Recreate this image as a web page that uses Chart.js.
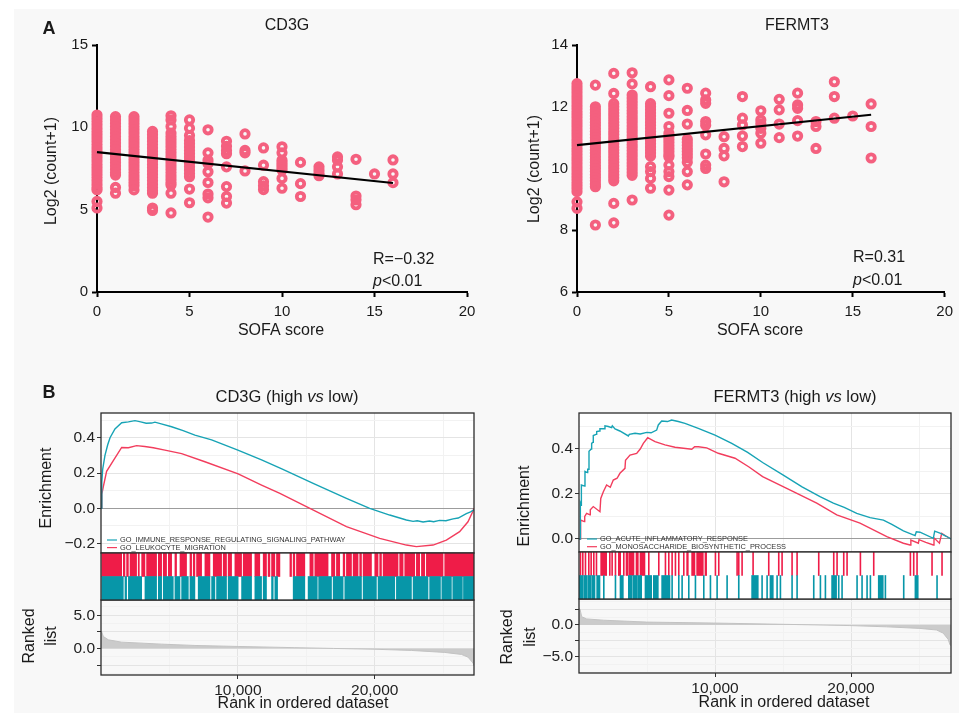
<!DOCTYPE html>
<html>
<head>
<meta charset="utf-8">
<title>CD3G / FERMT3 vs SOFA score and GSEA</title>
<script src="https://cdn.jsdelivr.net/npm/chart.js@4.4.1/dist/chart.umd.min.js"></script>
<style>
  body { margin: 0; background: #fff; }
  #fig { position: relative; width: 959px; height: 713px; overflow: hidden; }
  #bg { position: absolute; left: 14px; top: 9px; right: 0; bottom: 0; background: #f8f8f8; }
  canvas { position: absolute; left: 0; top: 0; }
</style>
</head>
<body>
<div id="fig">
  <div id="bg"></div>
  <canvas id="sc1" width="959" height="713"></canvas>
  <canvas id="sc2" width="959" height="713"></canvas>
  <canvas id="es1" width="959" height="713"></canvas>
  <canvas id="rk1" width="959" height="713"></canvas>
  <canvas id="hit1" width="959" height="713"></canvas>
  <canvas id="es2" width="959" height="713"></canvas>
  <canvas id="rk2" width="959" height="713"></canvas>
  <canvas id="hit2" width="959" height="713"></canvas>
</div>
<script>
// ---------- panel A: expression vs SOFA score ----------
const sofaScores = [0, 1, 2, 3, 4, 5, 6, 7, 8, 9, 10, 11, 12, 13, 14, 15, 16];

// log2(count+1) of every patient, one list per SOFA score
const cd3gExpr = [
  [10.75, 10.55, 10.35, 10.15, 9.95, 9.75, 9.55, 9.35, 9.15, 8.95, 8.75, 8.55, 8.35, 8.15, 7.95, 7.75, 7.55, 7.35, 7.15, 6.95, 6.75, 6.55, 6.35, 6.2, 5.5, 5.1],
  [10.65, 10.45, 10.25, 10.05, 9.85, 9.65, 9.45, 9.25, 9.05, 8.85, 8.65, 8.45, 8.25, 8.05, 7.85, 7.65, 7.45, 7.25, 7.1, 6.35, 6.0],
  [10.65, 10.45, 10.25, 10.05, 9.85, 9.65, 9.45, 9.25, 9.05, 8.85, 8.65, 8.45, 8.25, 8.05, 7.85, 7.65, 7.45, 7.25, 7.05, 6.85, 6.65, 6.45, 6.2],
  [9.75, 9.55, 9.35, 9.15, 8.95, 8.75, 8.55, 8.35, 8.15, 7.95, 7.75, 7.55, 7.35, 7.15, 6.95, 6.75, 6.55, 6.35, 6.15, 6.0, 5.1, 4.95],
  [10.7, 10.45, 10.05, 9.65, 9.45, 9.25, 9.05, 8.85, 8.65, 8.45, 8.25, 8.05, 7.85, 7.65, 7.45, 7.25, 7.05, 6.85, 6.65, 6.5, 6.0, 4.8],
  [10.45, 9.95, 9.5, 9.2, 9.0, 8.8, 8.6, 8.4, 8.2, 8.0, 7.8, 7.6, 7.4, 7.2, 7.0, 6.25, 5.42],
  [9.85, 8.45, 8.0, 7.8, 7.3, 6.65, 5.95, 5.72, 4.55],
  [9.15, 8.85, 8.6, 8.4, 7.6, 6.4, 5.8, 5.4],
  [9.6, 8.6, 8.45, 7.35],
  [8.75, 7.7, 6.7, 6.45, 6.22],
  [8.82, 8.45, 8.0, 7.85, 7.7, 7.55, 7.4, 6.9, 6.3],
  [7.87, 6.58, 5.8],
  [7.6, 7.4, 7.2, 7.06],
  [8.2, 8.0, 7.6, 7.17],
  [8.06, 5.83, 5.6, 5.3],
  [7.17],
  [8.02, 7.17, 6.64]
];
const fermt3Expr = [
  [12.75, 12.65, 12.55, 12.45, 12.35, 12.25, 12.15, 12.05, 11.95, 11.85, 11.75, 11.65, 11.55, 11.45, 11.35, 11.25, 11.15, 11.05, 10.95, 10.85, 10.75, 10.65, 10.55, 10.45, 10.35, 10.25, 10.15, 10.05, 9.95, 9.85, 9.75, 9.65, 9.55, 9.45, 9.35, 9.25, 8.92, 8.71],
  [12.7, 12.0, 11.9, 11.8, 11.7, 11.6, 11.5, 11.4, 11.3, 11.2, 11.1, 11.0, 10.9, 10.8, 10.7, 10.6, 10.5, 10.4, 10.3, 10.2, 10.1, 10.0, 9.9, 9.8, 9.7, 9.6, 9.5, 9.41, 8.17],
  [13.08, 12.43, 12.1, 12.0, 11.9, 11.8, 11.7, 11.6, 11.5, 11.4, 11.3, 11.2, 11.1, 11.0, 10.9, 10.8, 10.7, 10.6, 10.5, 10.4, 10.3, 10.2, 10.1, 10.0, 9.9, 9.8, 9.7, 9.6, 8.87, 8.24],
  [13.1, 12.74, 12.38, 12.28, 12.18, 12.08, 11.98, 11.88, 11.78, 11.68, 11.58, 11.48, 11.38, 11.28, 11.18, 11.08, 10.98, 10.88, 10.78, 10.68, 10.58, 10.48, 10.38, 10.28, 10.18, 10.08, 9.98, 9.88, 9.78, 8.98],
  [12.65, 12.1, 12.0, 11.9, 11.8, 11.7, 11.6, 11.5, 11.4, 11.3, 11.2, 11.1, 11.0, 10.9, 10.8, 10.7, 10.6, 10.5, 10.4, 10.06, 9.9, 9.68, 9.36],
  [12.87, 12.36, 11.79, 11.36, 11.14, 11.04, 10.94, 10.84, 10.74, 10.64, 10.54, 10.44, 10.38, 10.11, 9.9, 9.74, 9.3, 8.49],
  [12.6, 11.88, 11.44, 10.95, 10.85, 10.75, 10.65, 10.55, 10.45, 10.35, 10.2, 9.9, 9.47],
  [12.44, 12.22, 12.11, 11.52, 11.4, 11.09, 10.47, 10.11, 10.0],
  [11.03, 10.65, 10.41, 9.57],
  [12.33, 11.63, 11.41, 11.05, 10.71],
  [11.87, 11.57, 11.45, 11.3, 11.14, 10.82],
  [12.24, 11.9, 11.44, 11.0],
  [12.44, 12.06, 11.95, 11.55, 11.05],
  [11.52, 11.36, 10.65],
  [12.81, 12.33, 11.63],
  [11.7],
  [12.09, 11.36, 10.34]
];
// linear fit, evaluated at the ends of the observed score range
const fitX = [0, 16];
const cd3gFitY = [8.5, 6.62];
const fermt3FitY = [10.76, 11.74];
const cd3gStat = 'R=\u22120.32';
const fermt3Stat = 'R=0.31';

// ---------- panel B: GSEA running enrichment ----------
const rankGrid = [5000, 10000, 15000, 20000, 25000];
const rankMajor = [10000, 20000];

const cd3gSets = ['GO_IMMUNE_RESPONSE_REGULATING_SIGNALING_PATHWAY', 'GO_LEUKOCYTE_MIGRATION'];
const cd3gImmuneRank = [0, 60, 120, 290, 490, 660, 1020, 1510, 2000, 2480, 2900, 3300, 3700, 3940, 4400, 5160, 6000, 6860, 8080, 10000, 11730, 13250, 15500, 17930, 19630, 21090, 22310, 22800, 23100, 23530, 24000, 24300, 24740, 25200, 25720, 26100, 26690, 27000, 27250];
const cd3gImmuneES = [0, 0.15, 0.22, 0.30, 0.36, 0.40, 0.45, 0.485, 0.49, 0.497, 0.49, 0.482, 0.483, 0.488, 0.478, 0.462, 0.44, 0.415, 0.388, 0.33, 0.274, 0.222, 0.142, 0.057, 0, -0.038, -0.066, -0.074, -0.07, -0.077, -0.072, -0.076, -0.068, -0.07, -0.06, -0.055, -0.03, -0.02, -0.008];
const cd3gLeukoRank = [0, 60, 190, 410, 900, 1510, 2000, 2600, 3200, 3820, 4670, 5890, 7590, 10020, 11730, 13070, 15260, 17930, 20360, 22310, 23040, 24260, 25230, 26200, 26810, 27180, 27250];
const cd3gLeukoES = [0, 0.08, 0.13, 0.21, 0.27, 0.345, 0.343, 0.355, 0.35, 0.343, 0.33, 0.31, 0.264, 0.195, 0.132, 0.085, 0, -0.104, -0.17, -0.208, -0.217, -0.208, -0.18, -0.132, -0.076, -0.015, 0];
const cd3gImmuneHits = [[50, 1630], [1750, 1870], [2000, 2970], [3210, 4060], [4190, 4430], [4550, 5280], [5400, 5770], [5890, 6380], [6500, 6860], [7100, 7960], [8080, 8320], [8440, 9170], [9290, 10020], [10270, 11000], [11240, 11730], [11850, 12090], [12460, 12580], [12700, 12900], [14040, 14890], [15130, 15800], [15900, 16840], [16960, 17690], [17810, 19030], [19150, 20120], [20240, 21460], [21580, 22680], [22800, 23890], [24010, 24800], [24900, 25600], [25700, 26400], [26480, 27250]];
const cd3gLeukoHits = [[50, 1510], [1630, 1750], [1870, 2000], [2120, 2600], [2720, 2800], [2970, 3210], [3330, 4060], [4190, 4430], [4550, 4790], [4920, 5160], [5400, 5520], [5770, 6250], [6500, 6620], [6740, 6860], [6980, 7350], [7590, 7960], [8200, 8810], [8930, 9170], [9290, 9540], [9780, 10270], [10390, 11000], [11240, 11600], [11850, 12090], [12210, 12340], [12460, 12700], [12820, 13070], [13800, 13920], [14040, 14160], [14280, 14890], [15260, 15500], [15620, 16590], [16840, 17080], [17200, 17440], [17690, 17810], [17930, 18300], [18420, 18780], [18900, 19030], [19150, 19760], [20000, 20240], [20360, 20490], [20610, 21700], [21820, 22070], [22190, 22920], [23040, 23280], [23410, 23650], [23770, 24990], [25110, 27250]];
const cd3gRankPos = [0, 50, 170, 535, 1510, 4430, 6860, 10020, 14160, 17000, 20000, 22680, 25110, 26330, 26810, 27180, 27250];
const cd3gRankMetric = [2.6, 2.5, 1.8, 1.3, 0.95, 0.65, 0.45, 0.3, 0.12, 0, -0.12, -0.3, -0.6, -0.9, -1.3, -2.2, -2.6];

const fermt3Sets = ['GO_ACUTE_INFLAMMATORY_RESPONSE', 'GO_MONOSACCHARIDE_BIOSYNTHETIC_PROCESS'];
const fermt3AcuteRank = [0, 90, 100, 160, 175, 420, 440, 610, 640, 700, 735, 900, 930, 1030, 1050, 1250, 1300, 1500, 1540, 1850, 1910, 2150, 2400, 2450, 2650, 3000, 3630, 3700, 4120, 4500, 4980, 5300, 5710, 5830, 6080, 6500, 6810, 7300, 7790, 8770, 10000, 11230, 12400, 13500, 15020, 16400, 17720, 18700, 19500, 20420, 21400, 22380, 23000, 23850, 24710, 24800, 25070, 26050, 26150, 26540, 27000, 27350];
const fermt3AcuteES = [0, 0, 0.16, 0.15, 0.24, 0.235, 0.30, 0.295, 0.31, 0.31, 0.39, 0.40, 0.425, 0.43, 0.46, 0.465, 0.477, 0.48, 0.49, 0.49, 0.503, 0.50, 0.495, 0.503, 0.489, 0.48, 0.458, 0.465, 0.47, 0.467, 0.474, 0.472, 0.484, 0.507, 0.524, 0.522, 0.529, 0.522, 0.514, 0.492, 0.462, 0.425, 0.385, 0.34, 0.284, 0.232, 0.188, 0.159, 0.14, 0.114, 0.095, 0.084, 0.065, 0.036, 0.015, 0.032, 0.03, 0.003, 0.035, 0.026, 0.012, 0];
const fermt3MonoRank = [0, 100, 120, 390, 420, 560, 810, 830, 1050, 1540, 1600, 1790, 2030, 2300, 2520, 2800, 3010, 3380, 3420, 3750, 4240, 4500, 4730, 5050, 5590, 6320, 7060, 8290, 8500, 8770, 9390, 10240, 11470, 12500, 13500, 15760, 17480, 18950, 20660, 22630, 23850, 24340, 24400, 24950, 25000, 25500, 26050, 26100, 26500, 26670, 27000, 27350];
const fermt3MonoES = [0, 0, 0.084, 0.077, 0.10, 0.114, 0.107, 0.13, 0.144, 0.121, 0.18, 0.21, 0.24, 0.23, 0.262, 0.27, 0.292, 0.314, 0.35, 0.373, 0.38, 0.40, 0.425, 0.45, 0.433, 0.418, 0.408, 0.399, 0.41, 0.41, 0.405, 0.381, 0.359, 0.32, 0.277, 0.21, 0.159, 0.107, 0.07, 0.01, -0.019, -0.027, -0.005, -0.019, -0.003, -0.015, -0.027, 0.005, -0.019, 0.025, 0.012, 0];
// single hits are ranks, runs of hits are [from, to]
const fermt3AcuteHits = [[0, 300], [350, 600], [650, 900], [950, 1176], [1299, 1544], 1789, 2646, [3014, 3259], [3626, 3900], [3960, 4300], [4360, 4606], [4851, 5341], [5464, 5831], [6076, 6689], 6811, 7301, 7546, 8036, 8526, 9139, 9629, 10119, 10854, 11711, [12691, 13181], 13426, 13794, [14039, 14284], 14529, 14774, 15631, 15999, 17224, 17714, 18081, [18571, 18939], 19061, 19306, 20409, 20776, 21144, 21389, [22001, 22369], 22491, 23839, [24696, 24941], 26289];
const fermt3MonoHits = [74, 245, 441, 686, 858, 1054, 1250, [1593, 2034], 2230, 2401, 2646, [2891, 3063], 3259, [3455, 3626], [3700, 4043], [4190, 4361], [4484, 4851], 5096, 5831, 6321, 6566, 6811, 7056, 7301, 7669, [7914, 8036], [8281, 8526], [8649, 9139], [9261, 9384], 9996, 10241, 11589, 11711, 11956, 12765, 13916, 14651, 14896, 15631, 15999, 17591, 18694, 18939, 19429, 19674, 20654, 21634, 24329, 24574, 24819, 25921, 26656];
const fermt3RankPos = [0, 74, 196, 564, 1789, 4974, 9874, 15019, 19919, 22614, 25064, 26289, 26779, 27146, 27268, 27350];
const fermt3RankMetric = [2.6, 2.5, 1.3, 0.95, 0.75, 0.45, 0.3, 0.1, -0.1, -0.3, -0.55, -0.8, -1.3, -2.3, -3.1, -3.3];

// ---------- drawing ----------
const W = 959, H = 713;
const FONT = "'Liberation Sans', Arial, sans-serif";
const PINK = '#f4607f';
const TEAL = '#17a3b5', TEAL_HIT = '#0796a8';
const RED = '#f23d5d', RED_HIT = '#ef1c48';
const f = (size, style) => (style ? style + ' ' : '') + size + 'px ' + FONT;

Chart.defaults.responsive = false;
Chart.defaults.animation = false;
Chart.defaults.events = [];
Chart.defaults.font.family = FONT;
Chart.defaults.plugins.legend.display = false;
Chart.defaults.plugins.tooltip.enabled = false;

// free text (titles, axis names, annotations), page coordinates
const textPlugin = {
  id: 'texts',
  afterDraw(chart, args, opts) {
    const ctx = chart.ctx;
    (opts.items || []).forEach(t => {
      const parts = t.parts || [[t.text, t.font]];
      ctx.save();
      ctx.fillStyle = t.color || '#1a1a1a';
      ctx.textBaseline = 'middle';
      ctx.textAlign = 'left';
      ctx.translate(t.x, t.y);
      if (t.rot) ctx.rotate(t.rot);
      let total = 0;
      parts.forEach(p => { ctx.font = p[1]; total += ctx.measureText(p[0]).width; });
      let x = t.align === 'left' ? 0 : -total / 2;
      parts.forEach(p => { ctx.font = p[1]; ctx.fillText(p[0], x, 0); x += ctx.measureText(p[0]).width; });
      ctx.restore();
    });
  }
};

// white panel, black frame and an inside legend for the GSEA panels
const framePlugin = {
  id: 'frame',
  beforeDraw(chart, args, opts) {
    if (!opts.fill) return;
    const a = chart.chartArea, ctx = chart.ctx;
    ctx.save();
    ctx.fillStyle = opts.fill;
    ctx.fillRect(a.left, a.top, a.right - a.left, a.bottom - a.top);
    ctx.restore();
  },
  afterDatasetsDraw(chart, args, opts) {
    const a = chart.chartArea, ctx = chart.ctx;
    const lg = opts.legend;
    if (lg) {
      ctx.save();
      ctx.beginPath();
      ctx.rect(a.left, a.top, a.right - a.left, a.bottom - a.top);
      ctx.clip();
      ctx.font = f(7.4);
      ctx.textBaseline = 'middle';
      lg.items.forEach((it, i) => {
        const y = lg.y + i * lg.gap;
        ctx.strokeStyle = it.color;
        ctx.lineWidth = 1.2;
        ctx.beginPath();
        ctx.moveTo(lg.x, y);
        ctx.lineTo(lg.x + 10, y);
        ctx.stroke();
        ctx.fillStyle = '#333';
        ctx.fillText(it.label, lg.x + 13, y);
      });
      ctx.restore();
    }
    if (opts.stroke) {
      ctx.save();
      ctx.strokeStyle = opts.stroke;
      ctx.lineWidth = 1.3;
      ctx.strokeRect(a.left, a.top, a.right - a.left, a.bottom - a.top);
      ctx.restore();
    }
  }
};
Chart.register(textPlugin, framePlugin);

// put the plot area at page coordinates (l, t, r, b)
function place(l, t, r, b, yw, xh) {
  return { autoPadding: false, padding: { left: l - yw, top: t, right: W - r, bottom: H - b - xh } };
}

function toPoints(cols) {
  const pts = [];
  cols.forEach((col, i) => col.forEach(v => pts.push({ x: sofaScores[i], y: v })));
  return pts;
}

function scatterPanel(id, cols, fitY, area, yAxis, texts) {
  const axisGrid = { drawOnChartArea: false, tickLength: 5, tickWidth: 2, tickColor: '#000' };
  const axisBorder = { color: '#000', width: 2 };
  new Chart(document.getElementById(id), {
    type: 'scatter',
    data: {
      datasets: [
        { type: 'line', data: fitX.map((x, i) => ({ x, y: fitY[i] })), borderColor: '#000', borderWidth: 2.2, pointRadius: 0, clip: false },
        { data: toPoints(cols), pointRadius: 3.7, borderWidth: 3.8, borderColor: PINK, backgroundColor: 'rgba(0,0,0,0)', clip: false }
      ]
    },
    options: {
      layout: place(area[0], area[1], area[2], area[3], 60, 45),
      scales: {
        x: {
          type: 'linear', min: 0, max: 20,
          afterFit: s => { s.height = 45; },
          ticks: { stepSize: 5, font: { size: 15 }, color: '#1a1a1a', padding: 6 },
          grid: axisGrid, border: axisBorder
        },
        y: {
          min: yAxis[0], max: yAxis[1],
          afterFit: s => { s.width = 60; },
          ticks: { stepSize: yAxis[2], font: { size: 15 }, color: '#1a1a1a', padding: 4 },
          grid: axisGrid, border: axisBorder
        }
      },
      plugins: { texts: { items: texts } }
    }
  });
}

function gseaPanel(ids, p) {
  const tickFont = { family: FONT, size: 15.5 };
  const fmt = v => (v < 0 ? '\u2212' : '') + Math.abs(v).toFixed(1);
  const setRankGrid = s => { s.ticks = rankGrid.map(v => ({ value: v })); };
  const isMajorRank = c => c.tick && rankMajor.includes(c.tick.value);
  const lineColor = (c, labels) => {
    if (!c.tick) return 'transparent';
    if (c.tick.value === 0) return '#9c9c9c';
    return labels.includes(c.tick.value) ? '#e4e4e4' : '#f2f2f2';
  };

  // running enrichment score
  new Chart(document.getElementById(ids[0]), {
    type: 'line',
    data: {
      datasets: p.sets.map(s => ({
        data: s.rank.map((r, i) => ({ x: r, y: s.es[i] })),
        borderColor: s.line, borderWidth: 1.4, pointRadius: 0
      }))
    },
    options: {
      layout: place(p.left, p.esTop, p.right, p.hitTop, 60, 0),
      scales: {
        x: {
          type: 'linear', min: 0, max: p.nRank,
          afterBuildTicks: setRankGrid, afterFit: s => { s.height = 0; },
          ticks: { display: false },
          grid: { drawTicks: false, color: c => (isMajorRank(c) ? '#e4e4e4' : '#f2f2f2') },
          border: { display: false }
        },
        y: {
          min: p.esMin, max: p.esMax,
          afterBuildTicks: s => { s.ticks = p.esGrid.map(v => ({ value: v })); },
          afterFit: s => { s.width = 60; },
          ticks: { font: tickFont, color: '#222', padding: 2, autoSkip: false, callback: v => (p.esLabels.includes(v) ? fmt(v) : '') },
          grid: {
            color: c => lineColor(c, p.esLabels), tickLength: 4,
            tickColor: c => (c.tick && p.esLabels.includes(c.tick.value) ? '#333' : 'transparent')
          },
          border: { display: false }
        }
      },
      plugins: {
        frame: { fill: '#fff', stroke: '#2b2b2b', legend: p.legend },
        texts: { items: p.texts }
      }
    }
  });

  // hit positions of both gene sets
  new Chart(document.getElementById(ids[1]), {
    type: 'bar',
    data: {
      labels: [p.sets[1].name, p.sets[0].name],
      datasets: p.sets.map(s => ({
        data: s.hits.map(h => ({ y: s.name, x: Array.isArray(h) ? h : [h, h + 70] })),
        backgroundColor: s.hit, borderWidth: 0, grouped: false, barPercentage: 1, categoryPercentage: 1
      }))
    },
    options: {
      indexAxis: 'y',
      layout: place(p.left, p.hitTop, p.right, p.hitBottom, 0, 0),
      scales: {
        x: { type: 'linear', min: 0, max: p.nRank, display: false },
        y: { type: 'category', display: false }
      },
      plugins: { frame: { fill: '#fff', stroke: '#2b2b2b' } }
    }
  });

  // ranked list metric
  new Chart(document.getElementById(ids[2]), {
    type: 'line',
    data: {
      datasets: [{
        data: p.rankPos.map((r, i) => ({ x: r, y: p.rankMetric[i] })),
        fill: 'origin', backgroundColor: '#cbcbcb', borderColor: '#c2c2c2', borderWidth: 1, pointRadius: 0
      }]
    },
    options: {
      layout: place(p.left, p.hitBottom, p.right, p.rkBottom, 60, 30),
      scales: {
        x: {
          type: 'linear', min: 0, max: p.nRank,
          afterBuildTicks: setRankGrid, afterFit: s => { s.height = 30; },
          ticks: { font: tickFont, color: '#222', padding: 2, autoSkip: false, maxRotation: 0,
                   callback: v => (rankMajor.includes(v) ? v.toLocaleString('en-US') : '') },
          grid: { color: c => (isMajorRank(c) ? '#e4e4e4' : '#f2f2f2'), tickLength: 4,
                  tickColor: c => (isMajorRank(c) ? '#333' : 'transparent') },
          border: { display: false }
        },
        y: {
          min: p.rkMin, max: p.rkMax,
          afterBuildTicks: s => { s.ticks = p.rkGrid.map(v => ({ value: v })); },
          afterFit: s => { s.width = 60; },
          ticks: { font: tickFont, color: '#222', padding: 2, autoSkip: false, callback: v => (p.rkLabels.includes(v) ? fmt(v) : '') },
          grid: {
            color: c => (c.tick && p.rkTicks.includes(c.tick.value) ? '#e4e4e4' : '#f2f2f2'), tickLength: 4,
            tickColor: c => (c.tick && p.rkTicks.includes(c.tick.value) ? '#333' : 'transparent')
          },
          border: { display: false }
        }
      },
      plugins: { frame: { stroke: '#2b2b2b' } }
    }
  });
}

const ROT = -Math.PI / 2;

scatterPanel('sc1', cd3gExpr, cd3gFitY, [97, 45, 467, 292], [0, 15, 5], [
  { text: 'A', font: f(18, 'bold'), x: 49, y: 29 },
  { text: 'CD3G', font: f(16), x: 287, y: 26 },
  { text: 'Log2 (count+1)', font: f(16), x: 52, y: 171, rot: ROT },
  { text: 'SOFA score', font: f(16), x: 281, y: 331 },
  { text: cd3gStat, font: f(16), x: 373, y: 260, align: 'left' },
  { parts: [['p', f(16, 'italic')], ['<0.01', f(16)]], x: 373, y: 282, align: 'left' }
]);

scatterPanel('sc2', fermt3Expr, fermt3FitY, [577, 45, 947, 292], [6, 14, 2], [
  { text: 'FERMT3', font: f(16), x: 797, y: 26 },
  { text: 'Log2 (count+1)', font: f(16), x: 535, y: 169, rot: ROT },
  { text: 'SOFA score', font: f(16), x: 760, y: 331 },
  { text: fermt3Stat, font: f(16), x: 853, y: 258, align: 'left' },
  { parts: [['p', f(16, 'italic')], ['<0.01', f(16)]], x: 853, y: 281, align: 'left' }
]);

gseaPanel(['es1', 'hit1', 'rk1'], {
  left: 101, right: 474, esTop: 413, hitTop: 553, hitBottom: 600, rkBottom: 675, nRank: 27250,
  esMin: -0.253, esMax: 0.54,
  esGrid: [-0.2, -0.1, 0, 0.1, 0.2, 0.3, 0.4, 0.5], esLabels: [-0.2, 0, 0.2, 0.4],
  rkMin: -4.0, rkMax: 7.3,
  rkGrid: [6.25, 5, 3.75, 2.5, 1.25, 0, -1.25, -2.5, -3.75], rkTicks: [5, 2.5, 0, -2.5], rkLabels: [5, 0],
  rankPos: cd3gRankPos, rankMetric: cd3gRankMetric,
  sets: [
    { name: cd3gSets[0], rank: cd3gImmuneRank, es: cd3gImmuneES, hits: cd3gImmuneHits, line: TEAL, hit: TEAL_HIT },
    { name: cd3gSets[1], rank: cd3gLeukoRank, es: cd3gLeukoES, hits: cd3gLeukoHits, line: RED, hit: RED_HIT }
  ],
  legend: { x: 107, y: 540, gap: 7.6, items: [{ label: cd3gSets[0], color: TEAL }, { label: cd3gSets[1], color: RED }] },
  texts: [
    { text: 'B', font: f(18, 'bold'), x: 49, y: 393 },
    { parts: [['CD3G (high ', f(16.5)], ['vs', f(16.5, 'italic')], [' low)', f(16.5)]], x: 287, y: 397 },
    { text: 'Enrichment', font: f(16), x: 47, y: 488, rot: ROT },
    { text: 'Ranked', font: f(16), x: 30, y: 636, rot: ROT },
    { text: 'list', font: f(16), x: 52, y: 636, rot: ROT },
    { text: 'Rank in ordered dataset', font: f(16), x: 303, y: 704 }
  ]
});

gseaPanel(['es2', 'hit2', 'rk2'], {
  left: 579, right: 951, esTop: 413, hitTop: 552, hitBottom: 599, rkBottom: 673, nRank: 27350,
  esMin: -0.058, esMax: 0.56,
  esGrid: [0, 0.1, 0.2, 0.3, 0.4, 0.5], esLabels: [0, 0.2, 0.4],
  rkMin: -7.6, rkMax: 4.1,
  rkGrid: [3.75, 2.5, 1.25, 0, -1.25, -2.5, -3.75, -5, -6.25, -7.5], rkTicks: [2.5, 0, -2.5, -5], rkLabels: [0, -5],
  rankPos: fermt3RankPos, rankMetric: fermt3RankMetric,
  sets: [
    { name: fermt3Sets[0], rank: fermt3AcuteRank, es: fermt3AcuteES, hits: fermt3AcuteHits, line: TEAL, hit: TEAL_HIT },
    { name: fermt3Sets[1], rank: fermt3MonoRank, es: fermt3MonoES, hits: fermt3MonoHits, line: RED, hit: RED_HIT }
  ],
  legend: { x: 587, y: 539, gap: 7.7, items: [{ label: fermt3Sets[0], color: TEAL }, { label: fermt3Sets[1], color: RED }] },
  texts: [
    { parts: [['FERMT3 (high ', f(16.5)], ['vs', f(16.5, 'italic')], [' low)', f(16.5)]], x: 795, y: 397 },
    { text: 'Enrichment', font: f(16), x: 525, y: 506, rot: ROT },
    { text: 'Ranked', font: f(16), x: 508, y: 637, rot: ROT },
    { text: 'list', font: f(16), x: 531, y: 637, rot: ROT },
    { text: 'Rank in ordered dataset', font: f(16), x: 784, y: 703 }
  ]
});
</script>
</body>
</html>
